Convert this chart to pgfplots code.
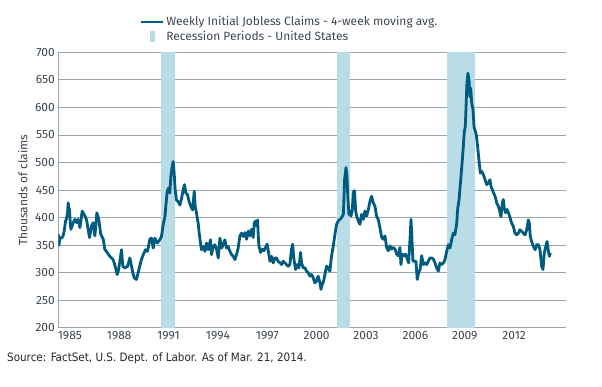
\documentclass[border=0pt]{standalone}
\usepackage{pgfplots}
\pgfplotsset{compat=1.18}
\usepackage{fontspec}
\setmainfont{Fira Sans}
\newfontfamily\srcfont{DejaVu Sans Condensed}
\definecolor{claimblue}{HTML}{005B7F}
\definecolor{recblue}{HTML}{B9DDE6}
\definecolor{gridgray}{HTML}{9BA5AC}
\definecolor{textgray}{HTML}{3C4650}
\begin{document}
\begin{tikzpicture}
\useasboundingbox (0,0) rectangle (602bp,387bp);
\begin{axis}[
  at={(58.3bp,59bp)}, anchor=south west,
  scale only axis, width=507.7bp, height=275.7bp,
  xmin=1984.3, xmax=2015.15, ymin=200, ymax=700,
  axis x line=bottom, axis y line=left,
  axis line style={-, draw=gridgray, line width=1bp},
  xtick={1985,1988,...,2012},
  xticklabels={1985,1988,1991,1994,1997,2000,2003,2006,2009,2012},
  ytick={200,250,...,700},
  ymajorgrids, grid style={draw=gridgray, line width=1bp},
  major tick length=0pt,
  tick label style={font=\fontsize{12}{14}\selectfont, text=textgray},
  /pgf/number format/assume math mode=true,
  ylabel={Thousands of claims},
  ylabel style={at={(axis description cs:-0.0701,0.5)}, anchor=center, font=\fontsize{12}{14}\selectfont, text=textgray},
  legend cell align=left,
  legend style={at={(axis description cs:0.160,1.138)}, anchor=north west, draw=none, fill=none,
    font=\fontsize{12}{14}\selectfont, text=textgray, inner sep=0pt, row sep=0pt, nodes={inner sep=2bp}},
]
\addlegendimage{legend image code/.code={\draw[claimblue, line width=2.6bp] (0bp,0bp) -- (22bp,0bp);}}
\addlegendentry{Weekly Initial Jobless Claims - 4-week moving avg.}
\addlegendimage{legend image code/.code={\fill[recblue] (9.5bp,-5bp) rectangle (13bp,5bp); \path[draw=none,fill=none] (0bp,0bp) rectangle (22bp,0.1bp);}}
\addlegendentry{Recession Periods - United States}

\addplot[fill=recblue, draw=none, forget plot] coordinates {(1990.51,200) (1990.51,700) (1991.38,700) (1991.38,200)} -- cycle;
\addplot[fill=recblue, draw=none, forget plot] coordinates {(2001.23,200) (2001.23,700) (2002.00,700) (2002.00,200)} -- cycle;
\addplot[fill=recblue, draw=none, forget plot] coordinates {(2007.92,200) (2007.92,700) (2009.60,700) (2009.60,200)} -- cycle;

\addplot[claimblue, line width=2.8bp, line join=round, forget plot] coordinates {
(1984.30,370) (1984.34,350) (1984.40,364) (1984.49,363) (1984.58,366) (1984.66,376) (1984.74,394) (1984.80,398) (1984.86,409) (1984.90,427) (1984.94,418) (1984.98,415) (1985.02,395) (1985.06,379) (1985.14,385) (1985.22,392) (1985.30,397) (1985.41,391) (1985.51,397) (1985.61,382) (1985.68,395) (1985.75,412) (1985.87,406) (1986.01,397) (1986.11,379) (1986.20,364) (1986.32,385) (1986.42,391) (1986.52,367) (1986.58,385) (1986.64,409) (1986.70,403) (1986.76,397) (1986.88,370) (1987.03,361) (1987.08,352) (1987.13,342) (1987.20,340) (1987.29,336) (1987.43,330) (1987.53,327) (1987.63,324) (1987.70,318) (1987.78,309) (1987.88,297) (1987.96,305) (1988.04,321) (1988.14,342) (1988.22,312) (1988.34,309) (1988.51,312) (1988.65,327) (1988.75,312) (1988.83,300) (1988.91,291) (1989.05,288) (1989.15,300) (1989.32,321) (1989.46,333) (1989.60,342) (1989.72,339) (1989.86,361)
(1989.96,363) (1990.07,345) (1990.17,363) (1990.31,354) (1990.47,360) (1990.57,366) (1990.67,387) (1990.78,402) (1990.84,423) (1990.92,448) (1991.00,454) (1991.08,445) (1991.14,475) (1991.22,493) (1991.28,502) (1991.34,481) (1991.40,451) (1991.48,432) (1991.59,429) (1991.69,423) (1991.79,435) (1991.89,451) (1991.97,460) (1992.05,445) (1992.15,442) (1992.25,429) (1992.36,420) (1992.46,414) (1992.56,448) (1992.62,420) (1992.70,408) (1992.80,390) (1992.86,372) (1992.94,354) (1993.00,342) (1993.11,348) (1993.21,339) (1993.31,354) (1993.41,342) (1993.55,360) (1993.61,333) (1993.71,348) (1993.81,351) (1993.92,342) (1994.02,327) (1994.12,363) (1994.22,345) (1994.32,351) (1994.42,360) (1994.52,345) (1994.62,348) (1994.73,339) (1994.83,333) (1994.93,330) (1995.03,324) (1995.13,333) (1995.23,345) (1995.33,366) (1995.43,372) (1995.54,366)
(1995.64,373) (1995.74,361) (1995.84,376) (1995.94,367) (1996.04,379) (1996.14,364) (1996.21,391) (1996.29,394) (1996.35,385) (1996.41,396) (1996.45,367) (1996.49,349) (1996.59,337) (1996.69,343) (1996.79,340) (1996.89,346) (1996.99,352) (1997.06,340) (1997.16,321) (1997.26,330) (1997.36,318) (1997.46,327) (1997.56,327) (1997.66,321) (1997.77,318) (1997.87,315) (1997.97,321) (1998.07,318) (1998.17,315) (1998.27,312) (1998.37,315) (1998.47,343) (1998.54,352) (1998.62,324) (1998.72,306) (1998.82,315) (1998.92,309) (1999.02,337) (1999.08,318) (1999.18,309) (1999.29,309) (1999.39,303) (1999.49,300) (1999.59,294) (1999.69,297) (1999.79,291) (1999.89,282) (1999.99,285) (2000.09,294) (2000.20,282) (2000.26,270) (2000.34,279) (2000.42,285) (2000.50,297) (2000.60,312) (2000.70,309) (2000.80,303) (2000.90,330) (2001.01,349) (2001.11,370) (2001.21,388) (2001.31,394)
(2001.41,397) (2001.51,400) (2001.62,406) (2001.70,470) (2001.78,491) (2001.84,476) (2001.90,433) (2001.96,406) (2002.02,412) (2002.08,403) (2002.16,412) (2002.22,446) (2002.30,449) (2002.37,412) (2002.43,403) (2002.53,394) (2002.63,388) (2002.73,406) (2002.83,397) (2002.93,412) (2003.03,403) (2003.14,415) (2003.24,430) (2003.34,439) (2003.44,427) (2003.54,421) (2003.64,403) (2003.74,397) (2003.84,382) (2003.95,364) (2004.05,361) (2004.15,367) (2004.25,346) (2004.35,340) (2004.45,349) (2004.55,343) (2004.65,346) (2004.76,343) (2004.86,334) (2004.96,331) (2005.06,346) (2005.12,315) (2005.20,334) (2005.30,331) (2005.40,334) (2005.51,325) (2005.59,318) (2005.67,361) (2005.73,397) (2005.79,361) (2005.85,321) (2005.95,321) (2006.03,321) (2006.11,288) (2006.19,300) (2006.28,306) (2006.38,331) (2006.48,315) (2006.58,318) (2006.68,315) (2006.78,321) (2006.88,327) (2006.99,327) (2007.09,325)
(2007.19,318) (2007.29,309) (2007.39,303) (2007.49,318) (2007.59,315) (2007.70,318) (2007.80,324) (2007.90,339) (2008.00,351) (2008.10,345) (2008.20,360) (2008.30,372) (2008.40,369) (2008.51,390) (2008.57,417) (2008.65,432) (2008.71,454) (2008.77,475) (2008.85,505) (2008.91,529) (2008.97,556) (2009.03,565) (2009.07,596) (2009.13,644) (2009.19,662) (2009.26,650) (2009.30,620) (2009.36,635) (2009.42,608) (2009.50,596) (2009.56,565) (2009.62,559) (2009.70,550) (2009.78,529) (2009.86,505) (2009.94,481) (2010.03,484) (2010.13,478) (2010.23,469) (2010.33,460) (2010.43,463) (2010.53,469) (2010.59,457) (2010.67,451) (2010.75,445) (2010.84,439) (2010.94,427) (2011.04,421) (2011.14,409) (2011.20,402) (2011.28,427) (2011.34,433) (2011.40,417) (2011.48,409) (2011.57,415) (2011.65,409) (2011.75,400) (2011.85,390) (2011.95,384) (2012.05,372) (2012.15,369) (2012.25,372) (2012.35,378) (2012.46,375) (2012.56,372) (2012.66,369) (2012.76,378) (2012.86,396) (2012.92,390) (2012.98,366) (2013.06,357) (2013.17,348) (2013.27,342) (2013.37,351) (2013.47,351) (2013.57,342) (2013.67,312) (2013.75,306) (2013.83,336) (2013.92,348) (2014.00,357) (2014.08,339) (2014.14,330) (2014.20,336)
};
\end{axis}
\node[anchor=west, font=\srcfont\fontsize{11.6}{13}\selectfont, text=black!85, inner sep=0pt] at (7bp,29bp) {Source: FactSet, U.S. Dept. of Labor. As of Mar. 21, 2014.};
\end{tikzpicture}
\end{document}
